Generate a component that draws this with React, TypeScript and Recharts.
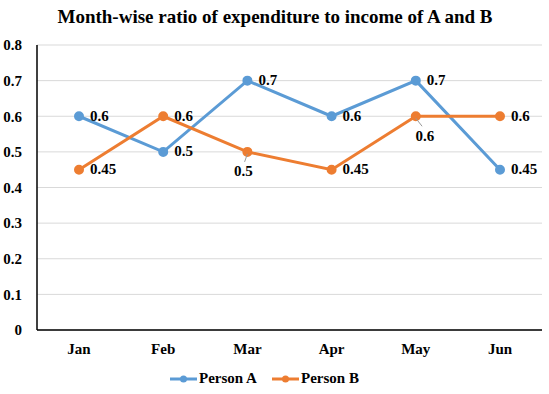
import React from 'react';
import { LineChart, Line, XAxis, YAxis, CartesianGrid } from 'recharts';

const months = ['Jan', 'Feb', 'Mar', 'Apr', 'May', 'Jun'];
const personA = [0.6, 0.5, 0.7, 0.6, 0.7, 0.45];
const personB = [0.45, 0.6, 0.5, 0.45, 0.6, 0.6];
const yTicks = [0, 0.1, 0.2, 0.3, 0.4, 0.5, 0.6, 0.7, 0.8];
const title = 'Month-wise ratio of expenditure to income of A and B';

const data = months.map((m, i) => ({ month: m, a: personA[i], b: personB[i] }));

const FONT = '"Liberation Serif", "Times New Roman", serif';
const BLUE = '#5B9BD5';
const ORANGE = '#ED7D31';

const labelBelow = new Set([2, 4]);

const makeLabel = (series: 'a' | 'b') => (props: any) => {
  const { x, y, value, index } = props;
  if (series === 'b' && labelBelow.has(index)) {
    const dx = index === 2 ? -4 : 9;
    return (
      <g>
        <line x1={x} y1={y + 2} x2={x + dx * 0.7} y2={y + 10} stroke="#999" strokeWidth={1} />
        <text x={x + dx} y={y + 21} textAnchor="middle" dominantBaseline="middle" fontFamily={FONT} fontWeight="bold" fontSize={15} fill="#000">
          {value}
        </text>
      </g>
    );
  }
  return (
    <text x={x + 11} y={y + 1} textAnchor="start" dominantBaseline="middle" fontFamily={FONT} fontWeight="bold" fontSize={15} fill="#000">
      {value}
    </text>
  );
};

export default function App() {
  return (
    <div style={{ position: 'absolute', left: 0, top: 0, width: 549, height: 394, background: '#fff' }}>
      <LineChart width={549} height={394} data={data} margin={{ top: 45, right: 7, left: 0, bottom: 34 }}>
        <text x={275} y={19} textAnchor="middle" dominantBaseline="middle" fontFamily={FONT} fontWeight="bold" fontSize={19} fill="#000">
          {title}
        </text>
        <CartesianGrid vertical={false} stroke="#d9d9d9" />
        <XAxis
          dataKey="month"
          height={30}
          padding={{ left: 42, right: 42 }}
          axisLine={{ stroke: '#000', strokeWidth: 1.5 }}
          tickLine={false}
          tickSize={0}
          tickMargin={13}
          tick={{ fontFamily: FONT, fontWeight: 'bold', fontSize: 15, fill: '#000' }}
        />
        <YAxis
          width={37}
          domain={[0, 0.8]}
          ticks={yTicks}
          axisLine={{ stroke: '#000', strokeWidth: 1.5 }}
          tickLine={false}
          tickSize={0}
          tickMargin={15}
          tick={{ fontFamily: FONT, fontWeight: 'bold', fontSize: 15, fill: '#000' }}
        />
        <Line dataKey="a" stroke={BLUE} strokeWidth={3} dot={{ r: 3.5, fill: BLUE, stroke: BLUE }} isAnimationActive={false} label={makeLabel('a')} />
        <Line dataKey="b" stroke={ORANGE} strokeWidth={3} dot={{ r: 3.5, fill: ORANGE, stroke: ORANGE }} isAnimationActive={false} label={makeLabel('b')} />
        <g>
          <line x1={170} y1={379} x2={197} y2={379} stroke={BLUE} strokeWidth={3} />
          <circle cx={183.5} cy={379} r={3.5} fill={BLUE} />
          <text x={199} y={380} dominantBaseline="middle" fontFamily={FONT} fontWeight="bold" fontSize={15} fill="#000">Person A</text>
          <line x1={272} y1={379} x2={299} y2={379} stroke={ORANGE} strokeWidth={3} />
          <circle cx={285.5} cy={379} r={3.5} fill={ORANGE} />
          <text x={301} y={380} dominantBaseline="middle" fontFamily={FONT} fontWeight="bold" fontSize={15} fill="#000">Person B</text>
        </g>
      </LineChart>
    </div>
  );
}
